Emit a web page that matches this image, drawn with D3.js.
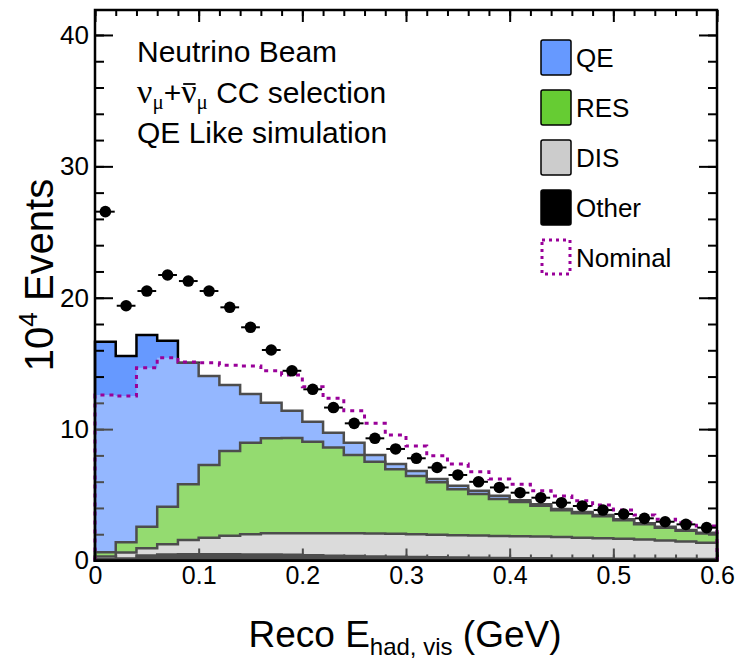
<!DOCTYPE html>
<html>
<head>
<meta charset="utf-8">
<script src="https://cdn.jsdelivr.net/npm/d3@7"></script>
<style>
  body { margin: 0; background: #fff; }
  svg { display: block; font-family: "Liberation Sans", Arial, Helvetica, sans-serif; }
</style>
</head>
<body>
<svg width="735" height="659"></svg>
<script>
// 30 bins of 0.02 GeV, 10^4 events per bin
var binWidth = 0.02;

var qe = [16.03,14.17,14.59,12.64,9.25,6.77,5.03,3.71,2.71,2.08,1.52,1.12,0.93,0.51,0.40,
          0.38,0.25,0.27,0.25,0.25,0.12,0.11,0.10,0.09,0.09,0.08,0.07,0.07,0.06,0.06];
var res = [0.32,0.79,1.64,2.86,4.24,5.53,6.44,6.97,7.23,7.25,6.96,6.53,5.96,5.46,4.90,
           4.43,3.99,3.49,3.16,2.81,2.61,2.35,2.04,1.86,1.67,1.40,1.16,0.98,0.82,0.70];
var dis = [0.20,0.45,0.55,0.78,1.09,1.27,1.42,1.53,1.62,1.64,1.68,1.71,1.73,1.75,1.76,
           1.74,1.72,1.71,1.70,1.68,1.67,1.65,1.62,1.59,1.55,1.52,1.46,1.39,1.31,1.24];
var other = [0.10,0.15,0.38,0.45,0.47,0.47,0.47,0.46,0.45,0.43,0.40,0.37,0.34,0.31,0.28,
             0.26,0.24,0.22,0.20,0.19,0.18,0.17,0.16,0.15,0.15,0.14,0.14,0.13,0.13,0.12];
var nominal = [12.60,12.52,14.67,15.43,15.11,15.05,14.86,14.80,14.44,14.12,13.23,12.34,11.40,10.44,9.55,
               8.71,7.98,7.34,6.76,6.20,5.80,5.31,4.91,4.55,4.22,3.85,3.46,3.14,2.88,2.63];
var dataPts = [26.55,19.39,20.51,21.73,21.27,20.51,19.27,17.75,16.02,14.44,13.03,11.64,10.44,9.30,8.49,
               7.78,7.08,6.51,5.99,5.56,5.16,4.78,4.40,4.15,3.84,3.54,3.21,2.95,2.75,2.50];

var xTicks = [0, 0.1, 0.2, 0.3, 0.4, 0.5, 0.6];
var yTicks = [0, 10, 20, 30, 40];

var legendItems = [
  { key: "qe", label: "QE", color: "#6699ff" },
  { key: "res", label: "RES", color: "#66cc33" },
  { key: "dis", label: "DIS", color: "#cccccc" },
  { key: "other", label: "Other", color: "#000000" }
];

var svg = d3.select("svg"),
    padL = 95, padR = 717, padT = 10, padB = 560.5;

var x = d3.scaleLinear().domain([0, 0.6]).range([padL, padR]);
var y = d3.scaleLinear().domain([0, 41.9]).range([padB, padT]);

// table for d3.stack
var rows = qe.map(function(d, i) {
  return { qe: qe[i], res: res[i], dis: dis[i], other: other[i] };
});
var series = d3.stack().keys(["other", "dis", "res", "qe"])(rows);

// histogram helper: step points incl. right edge of last bin
function steps(vals) {
  var pts = vals.map(function(v, i) { return [i * binWidth, v]; });
  pts.push([vals.length * binWidth, vals[vals.length - 1]]);
  return pts;
}

var area = d3.area()
    .x(function(d) { return x(d[0]); })
    .y0(y(0))
    .y1(function(d) { return y(d[1]); })
    .curve(d3.curveStepAfter);

var line = d3.line()
    .x(function(d) { return x(d[0]); })
    .y(function(d) { return y(d[1]); })
    .curve(d3.curveStepAfter);

var colorOf = {};
legendItems.forEach(function(l) { colorOf[l.key] = l.color; });

// draw cumulative histograms, top one first (ROOT style)
series.slice().reverse().forEach(function(s) {
  var tops = s.map(function(d) { return d[1]; });
  svg.append("path")
    .attr("d", area(steps(tops)))
    .attr("fill", colorOf[s.key])
    .attr("stroke", "#000")
    .attr("stroke-width", 2.5);
});

// ticks
var minorX = d3.range(0, 31).map(function(i) { return i * binWidth; });
var minorY = d3.range(0, 21).map(function(i) { return i * 2; });

function tickAxis(axis, tr) {
  var g = svg.append("g").attr("transform", tr).call(axis);
  g.select(".domain").remove();
  g.selectAll("line").attr("stroke", "#000").attr("stroke-width", 2);
  return g;
}
tickAxis(d3.axisBottom(x).tickValues(minorX).tickSize(-6).tickFormat(""), "translate(0," + padB + ")");
tickAxis(d3.axisBottom(x).tickValues(xTicks).tickSize(-12).tickFormat(""), "translate(0," + padB + ")");
tickAxis(d3.axisTop(x).tickValues(minorX).tickSize(-6).tickFormat(""), "translate(0," + padT + ")");
tickAxis(d3.axisTop(x).tickValues(xTicks).tickSize(-12).tickFormat(""), "translate(0," + padT + ")");
tickAxis(d3.axisLeft(y).tickValues(minorY).tickSize(-9).tickFormat(""), "translate(" + padL + ",0)");
tickAxis(d3.axisLeft(y).tickValues(yTicks).tickSize(-18).tickFormat(""), "translate(" + padL + ",0)");
tickAxis(d3.axisRight(y).tickValues(minorY).tickSize(-9).tickFormat(""), "translate(" + padR + ",0)");
tickAxis(d3.axisRight(y).tickValues(yTicks).tickSize(-18).tickFormat(""), "translate(" + padR + ",0)");

// translucent white layer under the nominal shape
svg.append("path")
  .attr("d", area(steps(nominal)))
  .attr("fill", "#fff")
  .attr("fill-opacity", 0.3);

// nominal dotted outline
var nomPts = [[0, 0]].concat(steps(nominal));
nomPts.push([nominal.length * binWidth, 0]);
svg.append("path")
  .attr("d", line(nomPts))
  .attr("fill", "none")
  .attr("stroke", "#990099")
  .attr("stroke-width", 3)
  .attr("stroke-dasharray", "4,5");

// frame
svg.append("rect")
  .attr("x", padL).attr("y", padT)
  .attr("width", padR - padL).attr("height", padB - padT)
  .attr("fill", "none").attr("stroke", "#000").attr("stroke-width", 2.5);

// data points
var pts = svg.append("g");
dataPts.forEach(function(v, i) {
  var c = (i + 0.5) * binWidth;
  pts.append("line")
    .attr("x1", x(i * binWidth) + 1).attr("x2", x((i + 1) * binWidth) - 1)
    .attr("y1", y(v)).attr("y2", y(v))
    .attr("stroke", "#000").attr("stroke-width", 2);
  pts.append("circle")
    .attr("cx", x(c)).attr("cy", y(v)).attr("r", 5.8)
    .attr("fill", "#000");
});

// tick labels
var xl = svg.append("g").attr("transform", "translate(0," + padB + ")")
  .call(d3.axisBottom(x).tickValues(xTicks).tickSize(0).tickPadding(6)
    .tickFormat(function(d) { return d === 0 ? "0" : d3.format(".1f")(d); }));
xl.select(".domain").remove();
xl.selectAll("text").attr("font-size", 25).attr("font-family", "Liberation Sans, Arial, sans-serif").attr("fill", "#000");

var yl = svg.append("g").attr("transform", "translate(" + padL + ",0)")
  .call(d3.axisLeft(y).tickValues(yTicks).tickSize(0).tickPadding(6));
yl.select(".domain").remove();
yl.selectAll("text").attr("font-size", 26).attr("font-family", "Liberation Sans, Arial, sans-serif").attr("fill", "#000");

// axis titles
var xt = svg.append("text")
  .attr("x", 405).attr("y", 647)
  .attr("text-anchor", "middle")
  .attr("font-size", 37);
xt.append("tspan").text("Reco E");
xt.append("tspan").attr("font-size", 24).attr("dy", 8).text("had, vis");
xt.append("tspan").attr("dy", -8).text(" (GeV)");

var yt = svg.append("text")
  .attr("transform", "translate(53,275) rotate(-90)")
  .attr("text-anchor", "middle")
  .attr("font-size", 40);
yt.append("tspan").text("10");
yt.append("tspan").attr("font-size", 26).attr("dy", -16).text("4");
yt.append("tspan").attr("dy", 16).text(" Events");

// info text
var info = svg.append("g").attr("font-size", 30);
info.append("text").attr("x", 137).attr("y", 62).text("Neutrino Beam");
var l2 = info.append("text").attr("x", 137).attr("y", 103);
l2.append("tspan").attr("font-family", "Liberation Serif, serif").attr("font-size", 34).text("\u03bd");
l2.append("tspan").attr("font-family", "Liberation Serif, serif").attr("font-size", 21).attr("dy", 6).text("\u03bc");
l2.append("tspan").attr("dy", -6).text("+");
l2.append("tspan").attr("font-family", "Liberation Serif, serif").attr("font-size", 34).text("\u03bd");
l2.append("tspan").attr("font-family", "Liberation Serif, serif").attr("font-size", 21).attr("dy", 6).text("\u03bc");
l2.append("tspan").attr("dy", -6).text(" CC selection");
info.append("text").attr("x", 137).attr("y", 143).text("QE Like simulation");

// bar over the second nu (antineutrino)
var nuBar = l2.node().getExtentOfChar(3);
svg.append("line")
  .attr("x1", nuBar.x + 2).attr("x2", nuBar.x + nuBar.width - 1)
  .attr("y1", 84).attr("y2", 84)
  .attr("stroke", "#000").attr("stroke-width", 1.8);

// legend
var leg = svg.append("g");
legendItems.concat([{ key: "nominal", label: "Nominal", color: "none" }]).forEach(function(l, i) {
  var yy = 40 + i * 50;
  if (l.key === "nominal") {
    leg.append("rect").attr("x", 542).attr("y", yy).attr("width", 28).attr("height", 34)
      .attr("fill", "none").attr("stroke", "#990099").attr("stroke-width", 3)
      .attr("stroke-dasharray", "3,4");
  } else {
    leg.append("rect").attr("x", 541).attr("y", yy).attr("width", 30).attr("height", 35)
      .attr("rx", 2).attr("fill", l.color).attr("stroke", "#000").attr("stroke-width", 1.5);
  }
  leg.append("text").attr("x", 576).attr("y", yy + 27).attr("font-size", 26).text(l.label);
});
</script>
</body>
</html>
